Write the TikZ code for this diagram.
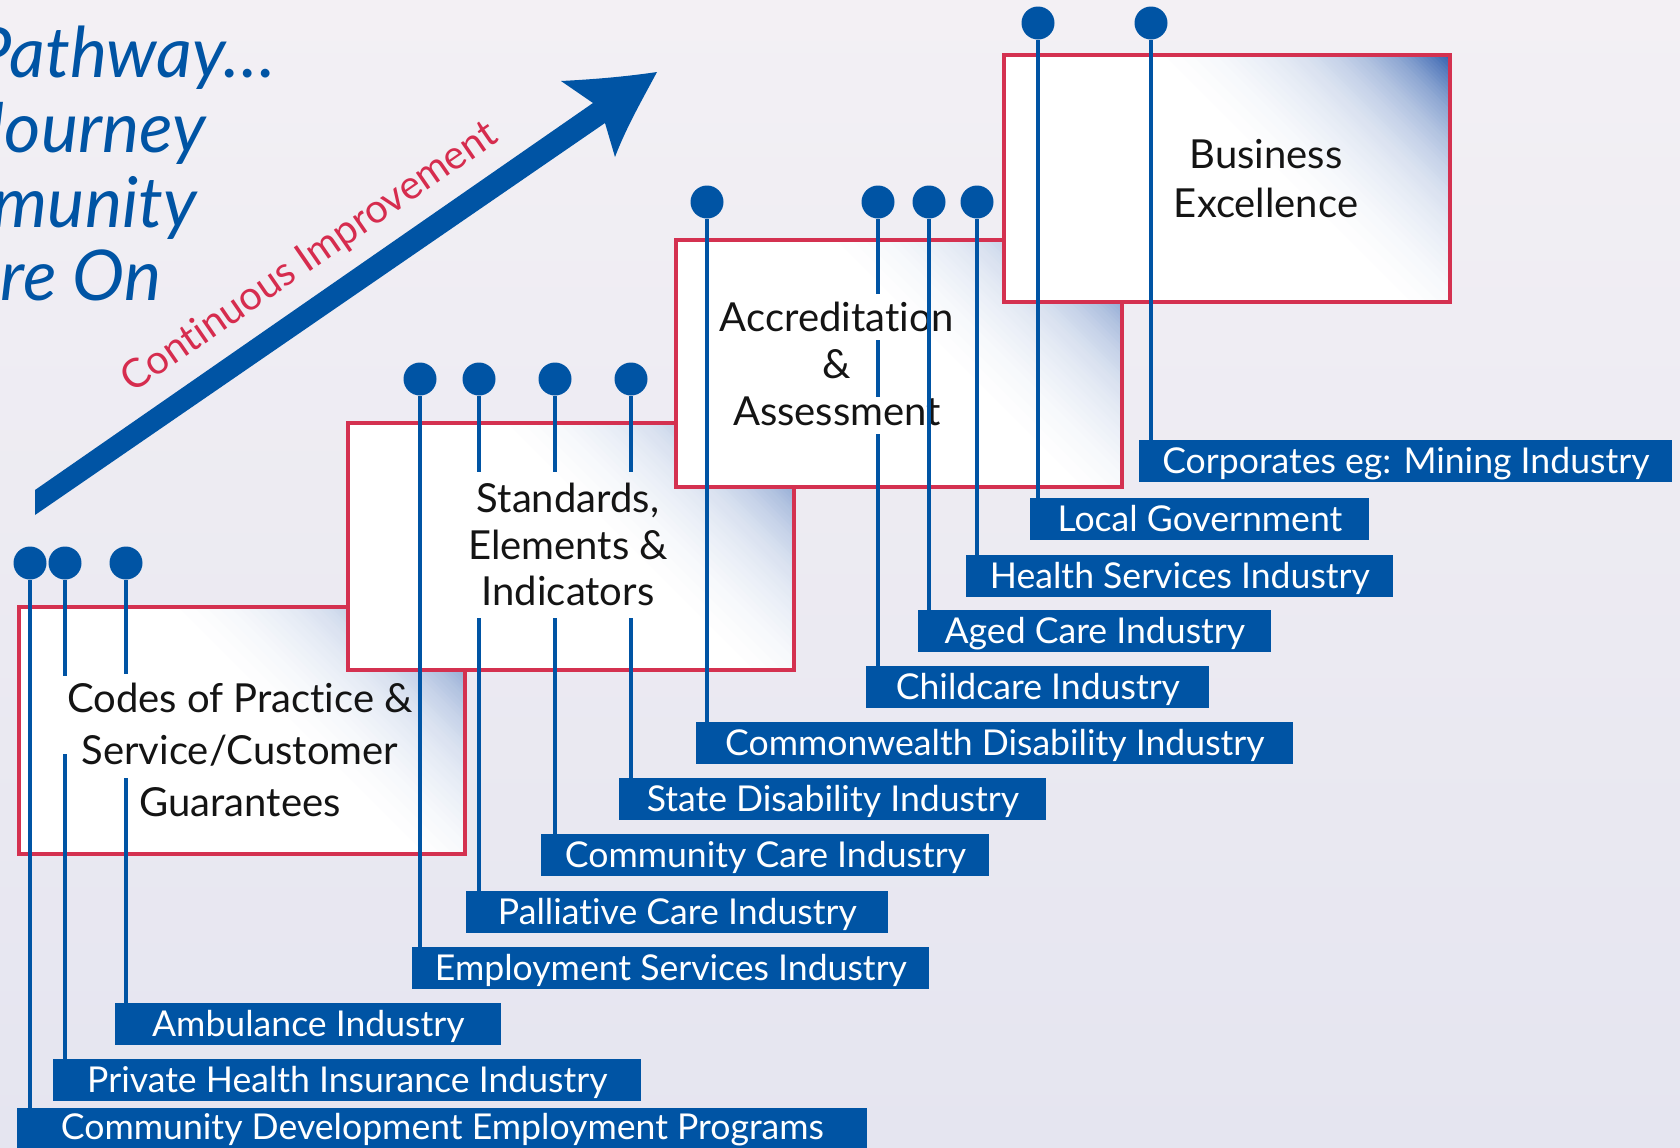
\documentclass[tikz,border=0pt]{standalone}
\usepackage{fontspec}
\setmainfont{Lato}[Ligatures=NoCommon]
\definecolor{lblue}{RGB}{0,84,164}
\definecolor{bred}{RGB}{212,49,80}
\definecolor{cired}{RGB}{214,44,78}
\definecolor{bgtop}{RGB}{243,240,244}
\definecolor{bgbot}{RGB}{229,229,240}
\definecolor{ge}{RGB}{47,93,173}
\tikzset{
  stagebox/.style={draw=bred, line width=2pt, fill=white, inner sep=0pt,
    minimum width=223pt, minimum height=123.5pt, anchor=north west,
    path picture={
      \foreach \s in {298,294,...,2}{
        \pgfmathtruncatemacro\gradp{max(0,105*exp(-(\s-2)/100)-5)}
        \fill[ge!\gradp!white] (path picture bounding box.north east)
          -- ++(-\s*0.5pt,0pt) -- ++(\s*0.5pt,-\s*0.5pt) -- cycle;
      }}},
  stagetext/.style={align=center, text=black!92, inner sep=0pt},
  dotn/.style={circle, fill=lblue, inner sep=0pt, minimum size=16.5pt},
  conn/.style={draw=lblue, line width=2pt},
  lbl/.style={fill=lblue, text=white, inner sep=0pt, anchor=north west,
    text height=16.5pt, text depth=4.5pt, align=center,
    font=\fontsize{17.8}{20}\selectfont},
  titletext/.style={text=lblue, inner sep=0pt, anchor=base east,
    font=\fontsize{35}{40}\itshape\selectfont}
}
\begin{document}
\begin{tikzpicture}[x=0.5pt, y=-0.5pt]
\useasboundingbox (0,0) rectangle (1680,1147);
\clip (0,0) rectangle (1680,1147);
% background
\shade[top color=bgtop, bottom color=bgbot] (0,0) rectangle (1680,1147);

% title
\node[titletext] (t1) at (276,77) {Pathway…};
\node[titletext] (t2) at (206,152) {Journey};
\node[titletext] (t3) at (197,227) {mmunity};
\node[titletext] (t4) at (162,300) {re On};

% arrow
\fill[lblue] (35,490) -- (593,103) -- (561,81)
  .. controls (600,79) and (630,76) .. (657,72)
  .. controls (642,100) and (626,128) .. (615,157)
  -- (605,123) -- (35,515) -- cycle;
\node[text=cired, rotate=34.6, inner sep=0pt, font=\fontsize{20}{24}\selectfont]
  (ci) at (310,258) {Continuous Improvement};

% stage boxes
\node[stagebox] (codes) at (17,605) {};
\node[stagetext, font=\fontsize{20}{26}\selectfont] (codest) at (240,750)
  {Codes of Practice \&\\Service/Customer\\Guarantees};
\node[stagebox] (std) at (346,421) {};
\node[stagetext, font=\fontsize{20}{23.25}\selectfont] (stdt) at (568,544.5)
  {Standards,\\Elements \&\\Indicators};
\node[stagebox] (acc) at (674,238) {};
\node[stagetext, font=\fontsize{20}{23.5}\selectfont] (acct) at (837,363.5)
  {Accreditation\\\&\\Assessment};
\node[stagebox] (bus) at (1002,53) {};
\node[stagetext, font=\fontsize{20}{24.5}\selectfont] (bust) at (1266,179)
  {Business\\Excellence};

% dots
\node[dotn] (b1) at (1038,23) {};
\node[dotn] (b2) at (1151,23) {};
\node[dotn] (a1) at (707,202) {};
\node[dotn] (a2) at (878,202) {};
\node[dotn] (a3) at (929,202) {};
\node[dotn] (a4) at (977,202) {};
\node[dotn] (s1) at (420,379) {};
\node[dotn] (s2) at (479,379) {};
\node[dotn] (s3) at (555,379) {};
\node[dotn] (s4) at (631,379) {};
\node[dotn] (c1) at (30,563) {};
\node[dotn] (c2) at (65,563) {};
\node[dotn] (c3) at (126,563) {};

% labels
\node[lbl, minimum width=266.5pt] (l1) at (1139,440) {Corporates eg: Mining Industry};
\node[lbl, minimum width=169.5pt] (l2) at (1030,498) {Local Government};
\node[lbl, minimum width=213.5pt] (l3) at (966,555) {Health Services Industry};
\node[lbl, minimum width=176.5pt] (l4) at (918,610) {Aged Care Industry};
\node[lbl, minimum width=171.5pt] (l5) at (866,666) {Childcare Industry};
\node[lbl, minimum width=298.5pt] (l6) at (696,722) {Commonwealth Disability Industry};
\node[lbl, minimum width=213.5pt] (l7) at (619,778) {State Disability Industry};
\node[lbl, minimum width=224pt] (l8) at (541,834) {Community Care Industry};
\node[lbl, minimum width=211pt] (l9) at (466,891) {Palliative Care Industry};
\node[lbl, minimum width=258.5pt] (l10) at (412,947) {Employment Services Industry};
\node[lbl, minimum width=193pt] (l11) at (115,1003) {Ambulance Industry};
\node[lbl, minimum width=294pt] (l12) at (53,1059) {Private Health Insurance Industry};
\node[lbl, minimum width=425pt, text height=15.5pt, text depth=14.5pt] (l13) at (17,1108)
  {Community Development Employment Programs};

% connectors
\draw[conn] (b2) -- (b2 |- l1.north);
\draw[conn] (b1) -- (b1 |- l2.north);
\draw[conn] (a4) -- (a4 |- l3.north);
\draw[conn] (a3) -- (a3 |- l4.north);
\draw[conn] (a2) -- (878,294) (878,340) -- (878,397) (878,434) -- (a2 |- l5.north);
\draw[conn] (a1) -- (a1 |- l6.north);
\draw[conn] (s4) -- (631,472) (631,618) -- (s4 |- l7.north);
\draw[conn] (s3) -- (555,472) (555,618) -- (s3 |- l8.north);
\draw[conn] (s2) -- (479,472) (479,618) -- (s2 |- l9.north);
\draw[conn] (s1) -- (s1 |- l10.north);
\draw[conn] (c3) -- (126,674) (126,778) -- (c3 |- l11.north);
\draw[conn] (c2) -- (65,676) (65,754) -- (c2 |- l12.north);
\draw[conn] (c1) -- (c1 |- l13.north);
\end{tikzpicture}
\end{document}
